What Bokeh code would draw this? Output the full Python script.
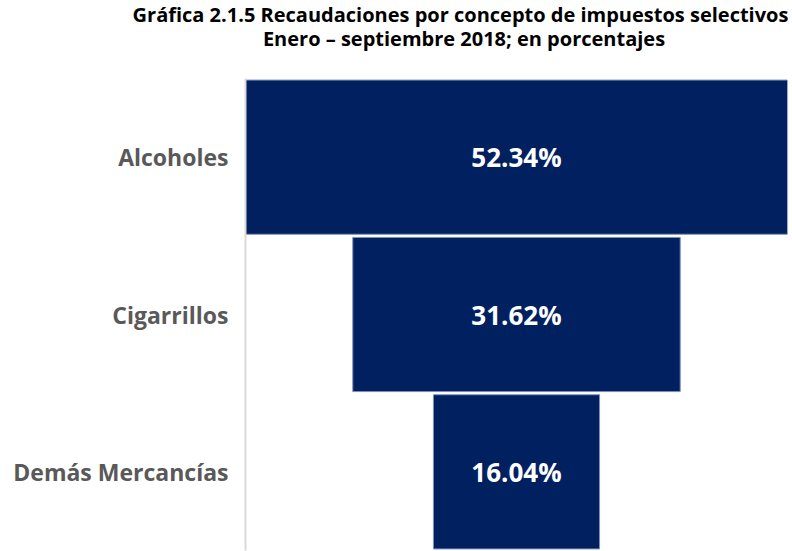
from bokeh.plotting import figure
from bokeh.layouts import column
from bokeh.models import FactorRange, Range1d, ColumnDataSource, Div
from bokeh.core.properties import value
from bokeh.embed import file_html
from bokeh.resources import INLINE

categories = ["Alcoholes", "Cigarrillos", "Demás Mercancías"]
values = [52.34, 31.62, 16.04]
labels = ["52.34%", "31.62%", "16.04%"]
title_lines = ["Gráfica 2.1.5 Recaudaciones por concepto de impuestos selectivos",
               "Enero – septiembre 2018; en porcentajes"]

# ---- title block (HTML text, centred on the reference positions) ----
line_style = ("position:absolute;white-space:nowrap;transform:translateX(-50%);"
              "font-family:'Open Sans';font-weight:bold;font-size:20px;line-height:20px;"
              "color:black;margin:0;padding:0;")
title_html = (
    '<div style="position:relative;width:792px;height:78px;margin:0;padding:0;">'
    f'<div style="{line_style}left:460.5px;top:5px;">{title_lines[0]}</div>'
    f'<div style="{line_style}left:464px;top:29px;">{title_lines[1]}</div>'
    '</div>'
)
title_div = Div(text=title_html, width=792, height=78, margin=0)

# ---- funnel ----
half = max(values) / 2
src = ColumnDataSource(dict(
    cat=categories,
    left=[-v / 2 for v in values],
    right=[v / 2 for v in values],
    lab=labels,
))

p = figure(width=792, height=473, output_backend="svg", toolbar_location=None,
           y_range=FactorRange(factors=list(reversed(categories)), range_padding=0),
           x_range=Range1d(-half, half),
           min_border_left=245, min_border_top=0, min_border_right=5, min_border_bottom=1)
p.title = None
p.outline_line_color = None
p.xaxis.visible = False
p.xgrid.grid_line_color = None
p.ygrid.grid_line_color = None
p.background_fill_color = "white"
p.border_fill_color = "white"

p.hbar(y="cat", left="left", right="right", height=0.98, source=src,
       fill_color="#002060", line_color="#7f8fb5", line_width=1)

p.text(x=0, y="cat", text="lab", source=src, text_align="center", text_baseline="middle",
       text_color="white", text_font=value("Open Sans"), text_font_style="bold",
       text_font_size="26px")

ax = p.yaxis[0]
ax.axis_line_color = "#d9d9d9"
ax.axis_line_width = 2
ax.major_tick_line_color = None
ax.minor_tick_line_color = None
ax.major_label_text_font = "Open Sans"
ax.major_label_text_font_style = "bold"
ax.major_label_text_font_size = "23px"
ax.major_label_text_color = "#595959"
ax.major_label_standoff = 11

layout = column(title_div, p, spacing=0)
open("out.html", "w").write(file_html(layout, INLINE))
